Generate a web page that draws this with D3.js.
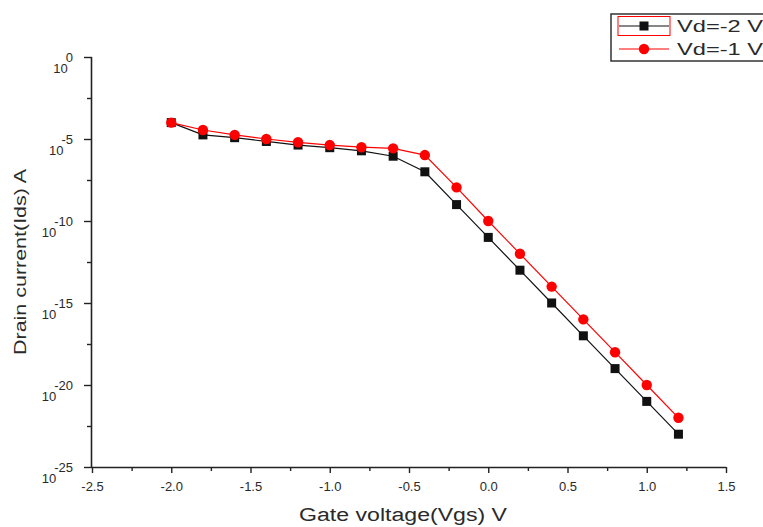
<!DOCTYPE html>
<html>
<head>
<meta charset="utf-8">
<script src="https://cdn.jsdelivr.net/npm/d3@7"></script>
<style>
  body { margin: 0; background: #fff; }
  text { font-family: "Liberation Sans", Arial, sans-serif; }
</style>
</head>
<body>
<div id="chart"></div>
<script>
// gate voltage (V)
const vgs = [-2.0, -1.8, -1.6, -1.4, -1.2, -1.0, -0.8, -0.6, -0.4, -0.2, 0.0, 0.2, 0.4, 0.6, 0.8, 1.0, 1.2];
// log10 of drain current
const expVd2 = [-4.0, -4.75, -4.92, -5.15, -5.37, -5.53, -5.72, -6.05, -7.0, -9.0, -11.0, -13.0, -15.0, -17.0, -19.0, -21.0, -23.0];
const expVd1 = [-4.0, -4.45, -4.75, -5.0, -5.2, -5.37, -5.5, -5.57, -5.98, -7.95, -10.0, -12.0, -14.0, -16.0, -18.0, -20.0, -22.0];
const seriesNames = ["Vd=-2 V", "Vd=-1 V"];
const xMajor = [-2.5, -2.0, -1.5, -1.0, -0.5, 0.0, 0.5, 1.0, 1.5];
const xMinor = [-2.25, -1.75, -1.25, -0.75, -0.25, 0.25, 0.75, 1.25];
const yMajorExp = [0, -5, -10, -15, -20, -25];
const yMinorExp = [-2.5, -7.5, -12.5, -17.5, -22.5];

const width = 763, height = 527;
const plotL = 92, plotR = 726, plotT = 57, plotB = 467;

const svg = d3.select("#chart").append("svg")
    .attr("width", width)
    .attr("height", height);

const x = d3.scaleLinear().domain([-2.5, 1.5]).range([plotL, plotR]);
const y = d3.scaleLog().domain([1e-25, 1]).range([plotB, plotT]);

const axisColor = "#222";
const textColor = "#2a2a2a";

// x axis
const xAxisG = svg.append("g").attr("transform", `translate(0,${plotB})`);
xAxisG.call(d3.axisBottom(x).tickValues(xMajor).tickSize(6)
    .tickFormat(d => d3.format(".1f")(d).replace("−", "-")));
xAxisG.select(".domain").attr("stroke", axisColor).attr("stroke-width", 1.6).attr("d", `M${plotL},0.5H${plotR}`);
xAxisG.selectAll(".tick line").attr("stroke", axisColor).attr("stroke-width", 1.4);
xAxisG.selectAll(".tick text")
    .attr("font-size", 13)
    .attr("fill", textColor)
    .attr("font-family", "Liberation Sans, Arial, sans-serif")
    .attr("y", 15);

const xMinorG = svg.append("g").attr("transform", `translate(0,${plotB})`);
xMinorG.call(d3.axisBottom(x).tickValues(xMinor).tickSize(4).tickFormat(""));
xMinorG.select(".domain").remove();
xMinorG.selectAll(".tick line").attr("stroke", axisColor).attr("stroke-width", 1.4);

// y axis
const yAxisG = svg.append("g").attr("transform", `translate(${plotL},0)`);
yAxisG.call(d3.axisLeft(y).tickValues(yMajorExp.map(e => Math.pow(10, e))).tickSize(8).tickFormat(""));
yAxisG.select(".domain").attr("stroke", axisColor).attr("stroke-width", 1.6).attr("d", `M-0.5,${plotT}V${plotB}`);
yAxisG.selectAll(".tick line").attr("stroke", axisColor).attr("stroke-width", 1.4);

const yMinorG = svg.append("g").attr("transform", `translate(${plotL},0)`);
yMinorG.call(d3.axisLeft(y).tickValues(yMinorExp.map(e => Math.pow(10, e))).tickSize(5).tickFormat(""));
yMinorG.select(".domain").remove();
yMinorG.selectAll(".tick line").attr("stroke", axisColor).attr("stroke-width", 1.4);

// y tick labels: 10 with superscript exponent
const yLabels = svg.append("g");
yMajorExp.forEach(e => {
    const ty = y(Math.pow(10, e));
    const sup = yLabels.append("text")
        .attr("x", 73)
        .attr("y", ty + 5)
        .attr("text-anchor", "end")
        .attr("font-size", 13)
        .attr("fill", textColor)
        .text(String(e));
    const w = sup.node().getComputedTextLength();
    yLabels.append("text")
        .attr("x", 73 - w + 2)
        .attr("y", ty + 16)
        .attr("text-anchor", "end")
        .attr("font-size", 13)
        .attr("fill", textColor)
        .text("10");
});

// axis titles
svg.append("text")
    .attr("x", 403)
    .attr("y", 521)
    .attr("text-anchor", "middle")
    .attr("font-size", 18)
    .attr("textLength", 208)
    .attr("lengthAdjust", "spacingAndGlyphs")
    .attr("fill", textColor)
    .text("Gate voltage(Vgs) V");

svg.append("text")
    .attr("transform", `translate(26,262) rotate(-90)`)
    .attr("text-anchor", "middle")
    .attr("font-size", 17)
    .attr("textLength", 186)
    .attr("lengthAdjust", "spacingAndGlyphs")
    .attr("fill", textColor)
    .text("Drain current(Ids) A");

// series
const series = [
    { name: seriesNames[0], exps: expVd2, color: "#111", shape: "square" },
    { name: seriesNames[1], exps: expVd1, color: "#ff0000", shape: "circle" }
];

const line = d3.line()
    .x(d => x(d.v))
    .y(d => y(Math.pow(10, d.e)));

series.forEach(s => {
    const pts = vgs.map((v, i) => ({ v: v, e: s.exps[i] }));
    svg.append("path")
        .datum(pts)
        .attr("d", line)
        .attr("fill", "none")
        .attr("stroke", s.color)
        .attr("stroke-width", 1.2);
    if (s.shape === "square") {
        svg.selectAll(".sq")
            .data(pts)
            .join("rect")
            .attr("class", "sq")
            .attr("x", d => x(d.v) - 4.5)
            .attr("y", d => y(Math.pow(10, d.e)) - 4.5)
            .attr("width", 9)
            .attr("height", 9)
            .attr("fill", s.color);
    } else {
        svg.selectAll(".ci")
            .data(pts)
            .join("circle")
            .attr("class", "ci")
            .attr("cx", d => x(d.v))
            .attr("cy", d => y(Math.pow(10, d.e)))
            .attr("r", 5.2)
            .attr("fill", s.color);
    }
});

// legend
const legend = svg.append("g");
legend.append("rect")
    .attr("x", 611).attr("y", 14)
    .attr("width", 160).attr("height", 47)
    .attr("fill", "#fff")
    .attr("stroke", "#333")
    .attr("stroke-width", 1.5);
legend.append("rect")
    .attr("x", 618).attr("y", 16.5)
    .attr("width", 52).attr("height", 19)
    .attr("fill", "none")
    .attr("stroke", "#ff0000")
    .attr("stroke-width", 1);
series.forEach((s, i) => {
    const ly = 26 + i * 23;
    legend.append("line")
        .attr("x1", 619).attr("x2", 669)
        .attr("y1", ly).attr("y2", ly)
        .attr("stroke", s.color)
        .attr("stroke-width", 1.2);
    if (s.shape === "square") {
        legend.append("rect")
            .attr("x", 644 - 4.5).attr("y", ly - 4.5)
            .attr("width", 9).attr("height", 9)
            .attr("fill", s.color);
    } else {
        legend.append("circle")
            .attr("cx", 644).attr("cy", ly)
            .attr("r", 5.2)
            .attr("fill", s.color);
    }
    legend.append("text")
        .attr("x", 677)
        .attr("y", ly + 6)
        .attr("font-size", 17)
        .attr("textLength", 86)
        .attr("lengthAdjust", "spacingAndGlyphs")
        .attr("fill", textColor)
        .text(s.name);
});
</script>
</body>
</html>
